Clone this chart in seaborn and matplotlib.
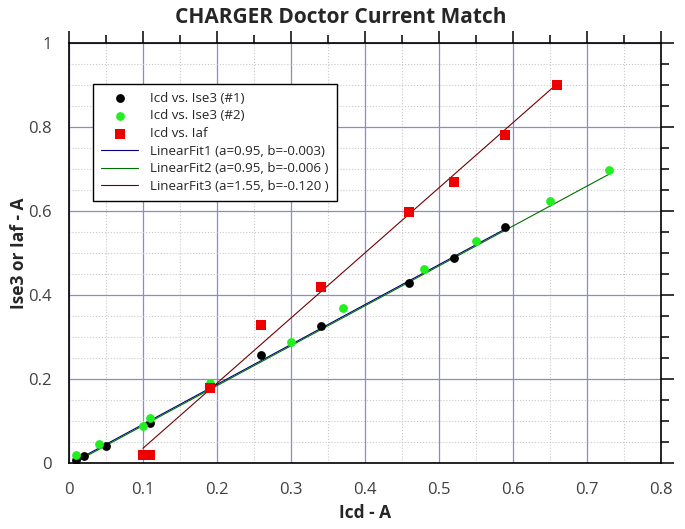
import numpy as np
import pandas as pd
import matplotlib
matplotlib.use("Agg")
import matplotlib.pyplot as plt
from matplotlib.ticker import MultipleLocator, FuncFormatter
import seaborn as sns

# measured points
icd_1 = [0.01, 0.02, 0.05, 0.11, 0.26, 0.34, 0.46, 0.52, 0.59]
ise3_1 = [0.008, 0.016, 0.040, 0.095, 0.256, 0.325, 0.428, 0.487, 0.561]

icd_2 = [0.01, 0.04, 0.10, 0.11, 0.19, 0.30, 0.37, 0.48, 0.55, 0.65, 0.73]
ise3_2 = [0.018, 0.045, 0.089, 0.106, 0.190, 0.289, 0.368, 0.463, 0.528, 0.623, 0.697]

icd_3 = [0.10, 0.11, 0.19, 0.26, 0.34, 0.46, 0.52, 0.59, 0.66]
iaf = [0.018, 0.018, 0.179, 0.329, 0.418, 0.598, 0.668, 0.780, 0.899]

# linear fit coefficients from the legend
fit_a = [0.95, 0.95, 1.55]
fit_b = [-0.003, -0.006, -0.120]
fit_labels = ["LinearFit1 (a=0.95, b=-0.003)",
              "LinearFit2 (a=0.95, b=-0.006 )",
              "LinearFit3 (a=1.55, b=-0.120 )"]

sns.set_theme(style="white")
plt.rcParams['font.family'] = ['Open Sans', 'DejaVu Sans']

fig = plt.figure(figsize=(6.85, 5.29), dpi=100)
ax = fig.add_axes([0.1007, 0.1248, 0.864, 0.794])

fit_colors = ['#000080', '#007000', '#700000']
xs = [icd_1, icd_2, icd_3]
for i in range(3):
    x0, x1 = min(xs[i]), max(xs[i])
    df = pd.DataFrame({'x': [x0, x1],
                       'y': [fit_a[i] * x0 + fit_b[i], fit_a[i] * x1 + fit_b[i]]})
    sns.lineplot(data=df, x='x', y='y', color=fit_colors[i], lw=0.8,
                 label=fit_labels[i], ax=ax, zorder=2)

sns.scatterplot(x=icd_1, y=ise3_1, color='black', marker='o', s=40,
                linewidth=0, label="Icd vs. Ise3 (#1)", ax=ax, zorder=3)
sns.scatterplot(x=icd_2, y=ise3_2, color='#22ee22', marker='o', s=40,
                linewidth=0, label="Icd vs. Ise3 (#2)", ax=ax, zorder=3)
sns.scatterplot(x=icd_3, y=iaf, color='#ee0000', marker='s', s=45,
                linewidth=0, label="Icd vs. Iaf", ax=ax, zorder=3)

ax.set_xlim(0, 0.8)
ax.set_ylim(0, 1)
ax.xaxis.set_major_locator(MultipleLocator(0.1))
ax.xaxis.set_minor_locator(MultipleLocator(0.05))
ax.yaxis.set_major_locator(MultipleLocator(0.2))
ax.yaxis.set_minor_locator(MultipleLocator(0.05))
fmt = FuncFormatter(lambda v, p: f"{v:g}")
ax.xaxis.set_major_formatter(fmt)
ax.yaxis.set_major_formatter(fmt)
ax.grid(which='major', color='#8a8ad0', lw=0.9)
ax.grid(which='minor', color='#c8c8c8', ls=':', lw=0.8)
ax.set_axisbelow(True)

for sp in ax.spines.values():
    sp.set_color('black')
    sp.set_linewidth(1.2)
    sp.set_visible(True)

ax.tick_params(which='both', direction='out', top=True, right=True,
               color='black', width=1.1, labelsize=12, labelcolor='#404040')
ax.tick_params(which='major', length=9)
ax.tick_params(which='minor', length=5.5)
ax.tick_params(axis='x', which='major', pad=5)

ax.set_xlabel("Icd - A", fontsize=12.5, fontweight='bold', labelpad=4)
ax.set_ylabel("Ise3 or Iaf - A", fontsize=12.5, fontweight='bold', labelpad=0)
fig.suptitle("CHARGER Doctor Current Match", fontsize=15, fontweight='bold',
             x=0.497, y=0.986, va='top')

handles, labels = ax.get_legend_handles_labels()
order = [3, 4, 5, 0, 1, 2]
leg = ax.legend([handles[k] for k in order], [labels[k] for k in order],
                loc='upper left', bbox_to_anchor=(0.0405, 0.903), fontsize=9.6,
                frameon=True, fancybox=False, framealpha=1, edgecolor='black',
                handlelength=2.8, handletextpad=0.9, labelspacing=0.35,
                borderpad=0.6, borderaxespad=0)
leg.get_frame().set_linewidth(1.0)

fig.savefig("out.png", dpi=100)
